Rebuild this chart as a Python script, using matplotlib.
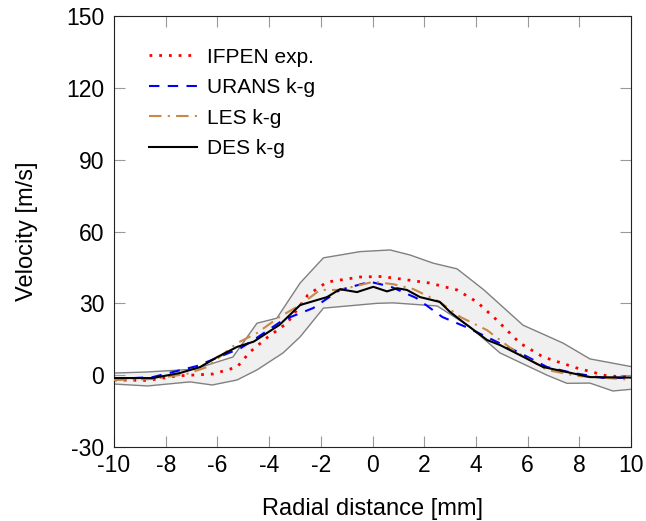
import numpy as np
import matplotlib.pyplot as plt

plt.rcParams['font.family'] = ['Liberation Sans', 'DejaVu Sans']
plt.rcParams['axes.unicode_minus'] = False

# experimental uncertainty band (upper / lower envelope)
band_up_x = [-10, -8.8, -6.9, -5.4, -4.47, -3.7, -2.8, -1.9, -0.48, 0.68, 1.45, 2.34, 3.27, 4.3, 5.82, 7.37, 8.41, 10]
band_up_v = [0.9, 1.3, 2.5, 7.6, 21.7, 23.8, 38.5, 49, 51.6, 52.3, 50.2, 46.8, 44.4, 35.7, 20.9, 13.4, 6.8, 3.6]
band_lo_x = [-10, -8.7, -7.06, -6.2, -5.24, -4.47, -3.46, -2.8, -1.9, 0.17, 0.79, 2.5, 3.77, 4.93, 6.75, 7.52, 8.41, 9.3, 10]
band_lo_v = [-3.7, -4.5, -2.8, -4.1, -2.0, 2.2, 9.3, 16, 28, 30, 30.2, 28.9, 20.2, 9.3, 0, -3.4, -3.3, -6.6, -5.9]

exp_x = [-10, -8.7, -7.56, -6.17, -5.24, -4.74, -4.1, -3.3, -2.5, -1.76, -0.48, 0.3, 0.8, 2.2, 3.27, 4.04, 4.8, 5.7, 6.6, 7.9, 9.07, 10]
exp_v = [-2, -2.2, -0.3, 0.5, 3.4, 9.7, 15.5, 21.8, 33.5, 38.9, 41, 41.2, 40.6, 38.5, 35.6, 30.6, 23.1, 13.4, 7.6, 3, -0.3, -0.8]

urans_x = [-10, -8.5, -6.8, -5.1, -4.6, -3.45, -2.3, -1.26, -0.1, 0.7, 1.7, 2.7, 3.6, 4.66, 5.7, 6.75, 7.76, 8.9, 10]
urans_v = [-1.6, -0.8, 3.8, 11.3, 14.7, 23.1, 28, 35.6, 39, 37, 32.2, 24.3, 20.2, 14.7, 9.3, 3.4, 0.9, -1.1, -1.1]

les_x = [-10, -8.5, -7.2, -6.4, -5.24, -4.47, -3.6, -2.8, -2.03, -1.26, 0.03, 0.8, 1.57, 2.6, 3.4, 4.43, 5.44, 6.75, 7.9, 10]
les_v = [-2, -1.6, 0.5, 3.4, 13.4, 17.6, 24.3, 29.3, 35.6, 35.6, 39, 38, 36, 30.6, 24.3, 18.8, 10.5, 2.2, -0.3, -1.9]

des_x = [-10, -8.5, -7.45, -6.67, -6.0, -5.24, -4.6, -3.6, -2.8, -1.76, -1.26, -0.6, 0.03, 0.56, 0.95, 1.33,
         1.84, 2.6, 3.0, 3.5, 4.43, 4.93, 5.7, 6.6, 7.52, 8.41, 10]
des_v = [-1.2, -1.2, 0.9, 3.4, 7.6, 11.8, 14, 21, 29.3, 32.6, 35.9, 34.7, 36.9, 35, 36.3, 35.6,
         32.6, 30.6, 26.4, 22.2, 14.7, 12.6, 8.4, 3.4, 1.3, -0.8, -1]

fig = plt.figure(figsize=(6.46, 5.21), dpi=100)
ax = fig.add_axes([0.1765, 0.142, 0.8003, 0.8273])

# band polygon from both envelopes
poly_x = band_up_x + band_lo_x[::-1]
poly_v = band_up_v + band_lo_v[::-1]
ax.fill(poly_x, poly_v, facecolor='#f0f0f0', edgecolor='none', zorder=1)
ax.plot(band_up_x, band_up_v, color='#808080', lw=1.0, zorder=2)
ax.plot(band_lo_x, band_lo_v, color='#808080', lw=1.0, zorder=2)

ax.plot(exp_x, exp_v, color='red', ls=(0, (1, 2.5)), lw=2.0, label='IFPEN exp.', zorder=3)
ax.plot(urans_x, urans_v, color='blue', ls=(0, (5, 4)), lw=1.5, label='URANS k-g', zorder=3)
ax.plot(les_x, les_v, color='#c8884a', ls=(0, (6, 3, 1, 3)), lw=1.5, label='LES k-g', zorder=3)
ax.plot(des_x, des_v, color='black', ls='-', lw=1.5, label='DES k-g', zorder=4)

ax.set_xlim(-10, 10)
ax.set_ylim(-30, 150)
ax.set_xticks(np.arange(-10, 11, 2))
ax.set_yticks(np.arange(-30, 151, 30))
ax.tick_params(axis='both', direction='in', length=8, color='#999999', labelsize=16.5,
               top=True, right=True)
ax.tick_params(axis='x', pad=5)
ax.tick_params(axis='y', pad=7)
for sp in ax.spines.values():
    sp.set_color('#222222')

ax.set_xlabel('Radial distance [mm]', fontsize=17, labelpad=15)
ax.set_ylabel('Velocity [m/s]', fontsize=17, labelpad=20)

ax.legend(loc='upper left', frameon=False, fontsize=15, handlelength=2.3,
          labelspacing=0.55, handletextpad=0.5, borderaxespad=0.4,
          bbox_to_anchor=(0.035, 0.965))

fig.savefig('out.png', dpi=100)
